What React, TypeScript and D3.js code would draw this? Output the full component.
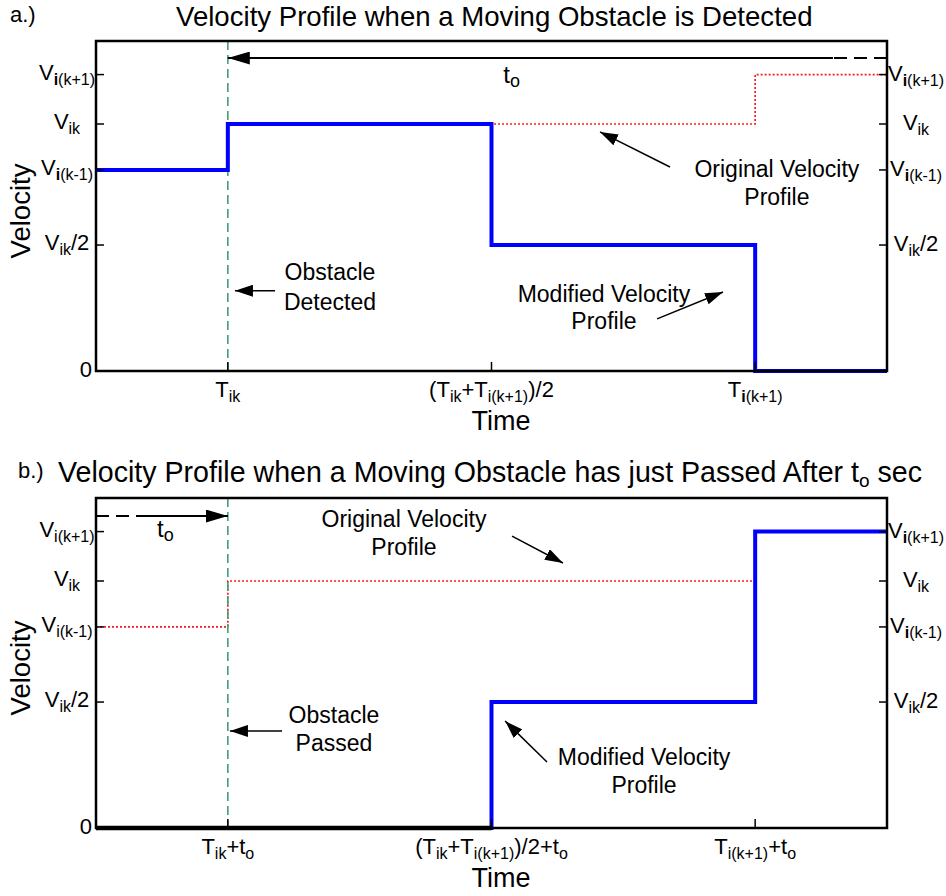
import React from "react";
import * as d3 from "d3";

type Part = { t: string; sub?: boolean; bold?: boolean };

// ---------- data (normalised units: T_ik = 1, midpoint = 3, T_i(k+1) = 5; V_ik = 1) ----------
const timeDomain: [number, number] = [0, 6];
const velocityDomain: [number, number] = [0, 1.336];

const timeTicks = [1, 3, 5];
const timeTickLabelsA: Part[][] = [
  [{ t: "T" }, { t: "ik", sub: true }],
  [{ t: "(T" }, { t: "ik", sub: true }, { t: "+T" }, { t: "i(k+1)", sub: true }, { t: ")/2" }],
  [{ t: "T" }, { t: "i", sub: true, bold: true }, { t: "(k+1)", sub: true }],
];
const timeTickLabelsB: Part[][] = [
  [{ t: "T" }, { t: "ik", sub: true }, { t: "+t" }, { t: "o", sub: true }],
  [{ t: "(T" }, { t: "ik", sub: true }, { t: "+T" }, { t: "i(k+1)", sub: true }, { t: ")/2+t" }, { t: "o", sub: true }],
  [{ t: "T" }, { t: "i(k+1)", sub: true }, { t: "+t" }, { t: "o", sub: true }],
];

const velocityTicks = [0, 0.51, 0.814, 1, 1.2];
const velLabelsLeftA: Part[][] = [
  [{ t: "0" }],
  [{ t: "V" }, { t: "ik", sub: true }, { t: "/2" }],
  [{ t: "V" }, { t: "i", sub: true, bold: true }, { t: "(k-1)", sub: true }],
  [{ t: "V" }, { t: "ik", sub: true }],
  [{ t: "V" }, { t: "i", sub: true, bold: true }, { t: "(k+1)", sub: true }],
];
const velLabelsLeftB: Part[][] = [
  [{ t: "0" }],
  [{ t: "V" }, { t: "ik", sub: true }, { t: "/2" }],
  [{ t: "V" }, { t: "i(k-1)", sub: true }],
  [{ t: "V" }, { t: "ik", sub: true }],
  [{ t: "V" }, { t: "i(k+1)", sub: true }],
];
const velLabelsRight: Part[][] = [
  [],
  [{ t: "V" }, { t: "ik", sub: true }, { t: "/2" }],
  [{ t: "V" }, { t: "i", sub: true, bold: true }, { t: "(k-1)", sub: true }],
  [{ t: "V" }, { t: "ik", sub: true }],
  [{ t: "V" }, { t: "i", sub: true, bold: true }, { t: "(k+1)", sub: true }],
];

// Panel a series
const originalTimeA = [0, 1, 5, 6];
const originalVelA = [0.814, 1, 1.2, 1.2];
const modifiedTimeA = [0, 1, 3, 5, 6];
const modifiedVelA = [0.814, 1, 0.51, 0, 0];
// Panel b series
const originalTimeB = [0, 1, 5];
const originalVelB = [0.814, 1, 1];
const modifiedTimeB = [0, 3, 5, 6];
const modifiedVelB = [0, 0.51, 1.2, 1.2];

const eventTime = 1;

// Annotations (data units)
type Ann = { lines: string[]; tx: number; tv: number[]; from: [number, number]; to: [number, number] };
const annotationsA: Ann[] = [
  { lines: ["Original Velocity", "Profile"], tx: 5.165, tv: [0.785, 0.672], from: [4.354, 0.826], to: [3.823, 0.968] },
  { lines: ["Obstacle", "Detected"], tx: 1.775, tv: [0.368, 0.247], from: [1.358, 0.325], to: [1.054, 0.325] },
  { lines: ["Modified Velocity", "Profile"], tx: 3.853, tv: [0.279, 0.17], from: [4.256, 0.211], to: [4.756, 0.32] },
];
const annotationsB: Ann[] = [
  { lines: ["Original Velocity", "Profile"], tx: 2.336, tv: [1.219, 1.105], from: [3.156, 1.182], to: [3.542, 1.073] },
  { lines: ["Obstacle", "Passed"], tx: 1.805, tv: [0.425, 0.312], from: [1.411, 0.393], to: [1.016, 0.393] },
  { lines: ["Modified Velocity", "Profile"], tx: 4.157, tv: [0.255, 0.142], from: [3.421, 0.267], to: [3.103, 0.433] },
];
const toArrowA = { from: 6, dashEnd: 5.59, to: 1, v: 1.267, labelT: 3.09, labelV: 1.166 };
const toArrowB = { from: 0, dashEnd: 0.387, to: 1, v: 1.263, labelT: 0.463, labelV: 1.178 };

// ---------- layout ----------
const W = 946;
const H = 896;
const FONT = "'Liberation Sans', Arial, Helvetica, sans-serif";
const LEFT = 96;
const RIGHT = 887;
const BLUE = "#0000ff";
const RED = "#ff1a1a";
const GREEN = "#449f74";

function Rich({ parts, x, y, size, subSize, anchor = "start", shift = 5 }: {
  parts: Part[]; x: number; y: number; size: number; subSize: number; anchor?: string; shift?: number;
}) {
  let inSub = false;
  const spans = parts.map((p, i) => {
    let dy = 0;
    if (p.sub && !inSub) { dy = shift; inSub = true; }
    else if (!p.sub && inSub) { dy = -shift; inSub = false; }
    return (
      <tspan key={i} dy={dy} fontSize={p.sub ? subSize : size} fontWeight={p.bold ? "bold" : "normal"}>
        {p.t}
      </tspan>
    );
  });
  return (
    <text x={x} y={y} fontSize={size} textAnchor={anchor} fontFamily={FONT} fill="#000">
      {spans}
    </text>
  );
}

function Panel({ top, bottom, title, titleSize, letter, titleY, titleX, letterX, timeLabels, leftLabels, origT, origV, modT, modV, blackZeroStart, anns, toArrow, xLabelY, markerId }: any) {
  const x = d3.scaleLinear().domain(timeDomain).range([LEFT, RIGHT]);
  const y = d3.scaleLinear().domain(velocityDomain).range([bottom, top]);
  const line = d3.line<[number, number]>().x((d) => x(d[0])).y((d) => y(d[1])).curve(d3.curveStepAfter);
  const orig: [number, number][] = origT.map((t: number, i: number) => [t, origV[i]]);
  const mod: [number, number][] = modT.map((t: number, i: number) => [t, modV[i]]);
  let zeroSeg: [number, number][] | null = null;
  if (blackZeroStart) {
    const idx = modV.findIndex((v: number) => v > 0);
    zeroSeg = [[modT[0], 0], [modT[idx], 0]];
  }
  const plain = d3.line<[number, number]>().x((d) => x(d[0])).y((d) => y(d[1]));
  const yMid = top + 170;
  return (
    <g>
      <text x={letterX} y={titleY - 4} fontSize={22} fontFamily={FONT}>{letter}</text>
      <Rich parts={title} x={titleX} y={titleY} size={titleSize} subSize={19} shift={5} />
      <path d={line(orig) || ""} fill="none" stroke={RED} strokeWidth={1.7} strokeDasharray="2,2" />
      <line x1={x(eventTime)} x2={x(eventTime)} y1={y(velocityDomain[1])} y2={y(0)} stroke={GREEN} strokeWidth={1.6} strokeDasharray="9,5" />
      <path d={line(mod) || ""} fill="none" stroke={BLUE} strokeWidth={4} />
      {zeroSeg && <path d={plain(zeroSeg) || ""} stroke="#000" strokeWidth={4.5} fill="none" />}
      <rect x={LEFT} y={top} width={RIGHT - LEFT} height={bottom - top} fill="none" stroke="#000" strokeWidth={2.5} />
      {velocityTicks.map((v, i) => (
        <g key={"yt" + i}>
          <line x1={LEFT} x2={LEFT + 8} y1={y(v)} y2={y(v)} stroke="#000" strokeWidth={1.5} />
          <line x1={RIGHT - 8} x2={RIGHT} y1={y(v)} y2={y(v)} stroke="#000" strokeWidth={1.5} />
          {leftLabels[i].length === 1 ? (
            <Rich parts={leftLabels[i]} x={LEFT - 4} y={y(v) + 6} size={22} subSize={16} anchor="end" />
          ) : (
            <Rich parts={leftLabels[i]} x={67} y={y(v) + 5} size={22} subSize={16} anchor="middle" />
          )}
          {velLabelsRight[i].length > 0 && (
            <Rich parts={velLabelsRight[i]} x={916} y={y(v) + 6} size={22} subSize={16} anchor="middle" />
          )}
        </g>
      ))}
      {timeTicks.map((t, i) => (
        <g key={"xt" + i}>
          <line x1={x(t)} x2={x(t)} y1={bottom} y2={bottom - 9} stroke="#000" strokeWidth={1.5} />
          <Rich parts={timeLabels[i]} x={x(t)} y={bottom + 26} size={22} subSize={16} anchor="middle" />
        </g>
      ))}
      <text x={501} y={xLabelY} fontSize={27} textAnchor="middle" fontFamily={FONT}>Time</text>
      <text x={30} y={yMid} fontSize={27.5} textAnchor="middle" fontFamily={FONT}
        transform={`rotate(-90,30,${yMid})`}>Velocity</text>
      <line x1={x(toArrow.from)} x2={x(toArrow.dashEnd)} y1={y(toArrow.v)} y2={y(toArrow.v)} stroke="#000" strokeWidth={2} strokeDasharray="13,7" />
      <line x1={x(toArrow.dashEnd)} x2={x(toArrow.to)} y1={y(toArrow.v)} y2={y(toArrow.v)} stroke="#000" strokeWidth={2} markerEnd={`url(#${markerId}big)`} />
      <Rich parts={[{ t: "t" }, { t: "o", sub: true }]} x={x(toArrow.labelT)} y={y(toArrow.labelV)} size={24} subSize={18} shift={4} />
      {anns.map((a: Ann, i: number) => (
        <g key={"an" + i}>
          {a.lines.map((l, j) => (
            <text key={j} x={x(a.tx)} y={y(a.tv[j])} fontSize={23} textAnchor="middle" fontFamily={FONT}>{l}</text>
          ))}
          <line x1={x(a.from[0])} y1={y(a.from[1])} x2={x(a.to[0])} y2={y(a.to[1])} stroke="#000" strokeWidth={1.5} markerEnd={`url(#${markerId})`} />
        </g>
      ))}
    </g>
  );
}

export default function App() {
  const titleA: Part[] = [{ t: "Velocity Profile when a Moving Obstacle is Detected" }];
  const titleB: Part[] = [{ t: "Velocity Profile when a Moving Obstacle has just Passed After t" }, { t: "o", sub: true }, { t: " sec" }];
  return (
    <svg width={W} height={H} style={{ position: "absolute", left: 0, top: 0, background: "#fff" }}>
      <defs>
        <marker id="arr" markerUnits="userSpaceOnUse" viewBox="0 0 18 12" refX={18} refY={6} markerWidth={18} markerHeight={12} orient="auto">
          <path d="M0,0 L18,6 L0,12 Z" fill="#000" />
        </marker>
        <marker id="arrbig" markerUnits="userSpaceOnUse" viewBox="0 0 22 13" refX={22} refY={6.5} markerWidth={22} markerHeight={13} orient="auto">
          <path d="M0,0 L22,6.5 L0,13 Z" fill="#000" />
        </marker>
      </defs>
      <rect width={W} height={H} fill="#fff" />
      <Panel top={41} bottom={371} title={titleA} titleSize={27.6} letter="a.)" titleY={26} titleX={176} letterX={10}
        timeLabels={timeTickLabelsA} leftLabels={velLabelsLeftA}
        origT={originalTimeA} origV={originalVelA} modT={modifiedTimeA} modV={modifiedVelA}
        blackZeroStart={false} anns={annotationsA} toArrow={toArrowA} xLabelY={430} markerId="arr" />
      <Panel top={498} bottom={828} title={titleB} titleSize={28.6} letter="b.)" titleY={482} titleX={58} letterX={18}
        timeLabels={timeTickLabelsB} leftLabels={velLabelsLeftB}
        origT={originalTimeB} origV={originalVelB} modT={modifiedTimeB} modV={modifiedVelB}
        blackZeroStart={true} anns={annotationsB} toArrow={toArrowB} xLabelY={887} markerId="arr" />
    </svg>
  );
}
